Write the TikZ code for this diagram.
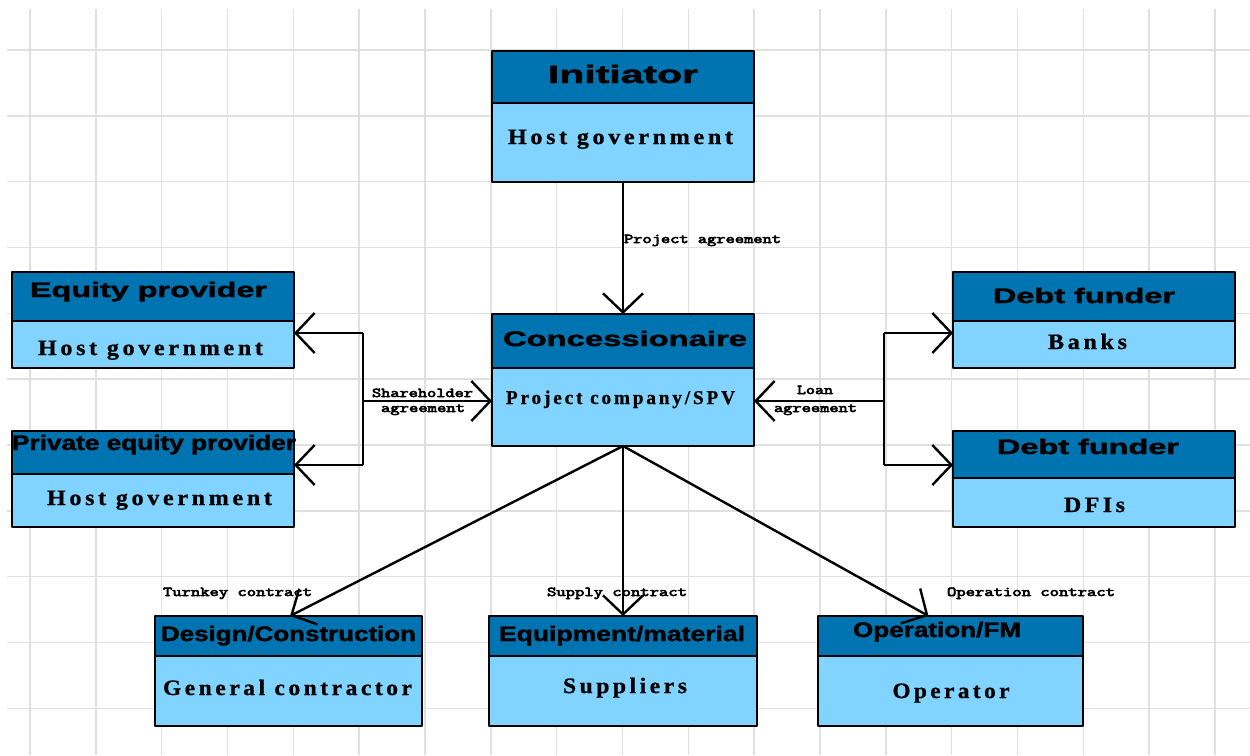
\documentclass[tikz,border=0pt]{standalone}
\usepackage{fontspec}
\usepackage{graphicx}
\usetikzlibrary{arrows.meta}
\newfontfamily\hdf{Liberation Sans}[FakeBold=1.6]
\newfontfamily\bdf{Liberation Serif}[LetterSpace=15,FakeBold=0.8]
\newfontfamily\mnf{Latin Modern Mono}[FakeBold=4]
\definecolor{hdrblue}{RGB}{0,116,176}
\definecolor{bdyblue}{RGB}{128,212,255}
\definecolor{gridgray}{RGB}{224,224,224}
\newcommand\hd[3]{\resizebox{#1pt}{\height}{\hdf\bfseries\fontsize{#2}{#2}\selectfont #3}}
\newcommand\bd[3]{\resizebox{#1pt}{\height}{\bdf\bfseries\fontsize{#2}{#2}\selectfont #3}}
\newcommand\lb[2]{\resizebox{#1pt}{0.85\height}{\mnf\fontsize{16}{16}\selectfont #2}}
\tikzset{
  gridl/.style={draw=gridgray, line width=1.5pt},
  boxn/.style={rectangle, inner sep=0pt, outer sep=0pt, draw=none},
  txt/.style={inner sep=0pt, outer sep=0pt, anchor=base},
  lbl/.style={inner sep=0pt, outer sep=0pt, anchor=base},
  conn/.style={line width=2.4pt, draw=black},
  arr/.style={conn, -{Straight Barb[length=19pt,width=40pt]}},
  hline/.style={line width=1.8pt},
  border/.style={line width=2.6pt, line join=round}
}
\newcommand\ebox[6]{%
  \node[boxn, anchor=north west, minimum width={(#5-#2)*1pt}, minimum height={(#6-#3)*1pt}] (#1) at (#2,#3) {};
  \fill[hdrblue] (#2,#3) rectangle (#5,#4);
  \fill[bdyblue] (#2,#4) rectangle (#5,#6);
  \draw[hline] (#2,#4) -- (#5,#4);
  \draw[border] (#2,#3) rectangle (#5,#6);
}
\begin{document}
\begin{tikzpicture}[x=1pt,y=-1pt]
\useasboundingbox (0,0) rectangle (1250,755);
\fill[white] (0,0) rectangle (1250,755);
% grid
\foreach \k in {0,...,18} \draw[gridl] ({30+65.83*\k},9) -- ({30+65.83*\k},755);
\foreach \k in {0,...,10} \draw[gridl] (7,{50+65.83*\k}) -- (1250,{50+65.83*\k});
% boxes
\ebox{init}{492}{51}{103}{754}{182}
\ebox{conc}{492}{314}{368}{754}{446}
\ebox{eq}{12}{272}{321}{294}{368}
\ebox{peq}{12}{431}{474}{294}{527}
\ebox{dfb}{953}{272}{321}{1235}{368}
\ebox{dfd}{953}{431}{478}{1235}{527}
\ebox{dc}{155}{616}{656}{422}{726}
\ebox{eqm}{489}{616}{656}{757}{726}
\ebox{op}{818}{616}{656}{1083}{726}
% header texts
\node[txt] (t-init) at (623,83) {\hd{150}{25}{Initiator}};
\node[txt] (t-conc) at (625,346) {\hd{244}{21}{Concessionaire}};
\node[txt] (t-eq) at (148.5,297) {\hd{237}{21}{Equity provider}};
\node[txt] (t-peq) at (154,450) {\hd{284}{21}{Private equity provider}};
\node[txt] (t-dfb) at (1084,303) {\hd{182}{21}{Debt funder}};
\node[txt] (t-dfd) at (1088,454) {\hd{182}{21}{Debt funder}};
\node[txt] (t-dc) at (288.5,641) {\hd{255}{21}{Design/Construction}};
\node[txt] (t-eqm) at (622,641) {\hd{246}{21}{Equipment/material}};
\node[txt] (t-op) at (937,637) {\hd{168}{21}{Operation/FM}};
% body texts
\node[txt] (b-init) at (620.5,144) {\bd{225}{22}{Host government}};
\node[txt] (b-conc) at (620.5,404) {\bd{229}{19.5}{Project company/SPV}};
\node[txt] (b-eq) at (150.5,355) {\bd{225}{22}{Host government}};
\node[txt] (b-peq) at (159.5,505) {\bd{225}{22}{Host government}};
\node[txt] (b-dfb) at (1087.5,349) {\bd{79}{22}{Banks}};
\node[txt] (b-dfd) at (1094.5,512) {\bd{61}{22}{DFIs}};
\node[txt] (b-dc) at (287.5,695) {\bd{249}{22}{General contractor}};
\node[txt] (b-eqm) at (625,693) {\bd{124}{22}{Suppliers}};
\node[txt] (b-op) at (951,698) {\bd{117}{22}{Operator}};
% connectors
\draw[arr] (init.south) -- (conc.north);
\coordinate (shj) at (363,401);
\coordinate (sht) at (363,333);
\coordinate (shb) at (363,465);
\draw[conn] (sht) -- (shb);
\draw[arr] (shj) -- (conc.west |- shj);
\draw[arr] (sht) -- (eq.east |- sht);
\draw[arr] (shb) -- (peq.east |- shb);
\coordinate (lnj) at (884,401);
\coordinate (lnt) at (884,333);
\coordinate (lnb) at (884,465);
\draw[conn] (lnt) -- (lnb);
\draw[arr] (lnj) -- (conc.east |- lnj);
\draw[arr] (lnt) -- (dfb.west |- lnt);
\draw[arr] (lnb) -- (dfd.west |- lnb);
\draw[arr] (conc.south) -- ([xshift=1.5pt]dc.north);
\draw[arr] (conc.south) -- (eqm.north);
\draw[arr] (conc.south) -- ([xshift=-22pt]op.north);
% connector labels
\node[lbl, anchor=base west] (l-pa) at (624,243) {\lb{157}{Project agreement}};
\node[lbl] (l-sh1) at (422.5,397) {\lb{101}{Shareholder}};
\node[lbl] (l-sh2) at (423,412) {\lb{84}{agreement}};
\node[lbl] (l-ln1) at (815,394) {\lb{36}{Loan}};
\node[lbl] (l-ln2) at (815.5,412) {\lb{83}{agreement}};
\node[lbl, anchor=base west] (l-tk) at (163,596) {\lb{149}{Turnkey contract}};
\node[lbl, anchor=base west] (l-sp) at (547,596) {\lb{140}{Supply contract}};
\node[lbl, anchor=base west] (l-oc) at (947,596) {\lb{168}{Operation contract}};
\end{tikzpicture}
\end{document}
